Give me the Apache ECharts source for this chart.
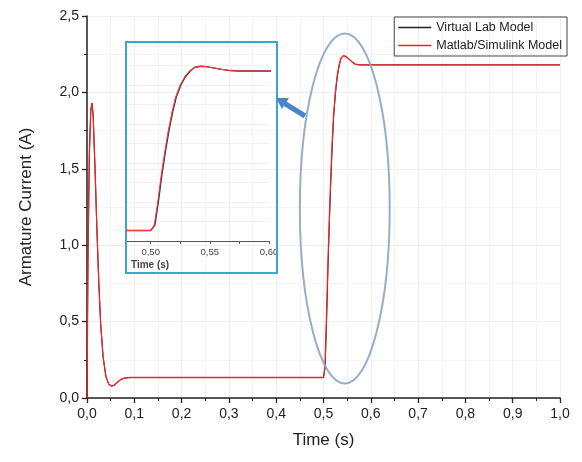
<!DOCTYPE html>
<html>
<head>
<meta charset="utf-8">
<script src="https://cdn.jsdelivr.net/npm/echarts@6/dist/echarts.min.js"></script>
<style>
  html, body { margin: 0; padding: 0; background: #fff; }
  #main { width: 582px; height: 462px; }
</style>
</head>
<body>
<div id="main"></div>
<script>
// time (s) and armature current (A)
const simulinkTime = [0, 0.002, 0.005, 0.008, 0.0105, 0.013, 0.017, 0.021, 0.025, 0.029, 0.034, 0.04, 0.046, 0.052,
    0.058, 0.065, 0.072, 0.08, 0.09, 0.5, 0.501, 0.503, 0.506, 0.509, 0.512, 0.515, 0.518, 0.521, 0.525,
    0.529, 0.533, 0.537, 0.542, 0.547, 0.553, 0.56, 0.567, 0.575, 0.585, 0.6, 1.0];
const simulinkCurrent = [0, 0.9, 1.6, 1.88, 1.93, 1.85, 1.5, 1.1, 0.75, 0.48, 0.27, 0.14, 0.09, 0.078,
    0.085, 0.105, 0.122, 0.131, 0.134, 0.134, 0.134, 0.2, 0.5, 0.85, 1.15, 1.42, 1.65, 1.84, 2.0,
    2.11, 2.18, 2.225, 2.24, 2.235, 2.22, 2.2, 2.185, 2.18, 2.18, 2.18, 2.18];
const virtualTime = [0, 0.002, 0.005, 0.008, 0.0105, 0.013, 0.017, 0.021, 0.025, 0.029, 0.034, 0.04, 0.046, 0.052,
    0.058, 0.065, 0.072, 0.08, 0.09, 0.5, 0.5015, 0.5035, 0.5065, 0.5095, 0.5125, 0.5155, 0.5185, 0.5215, 0.5255,
    0.5295, 0.5335, 0.537, 0.542, 0.547, 0.553, 0.56, 0.567, 0.575, 0.585, 0.6, 1.0];
const virtualCurrent = [0, 0.9, 1.6, 1.88, 1.93, 1.85, 1.5, 1.1, 0.75, 0.48, 0.27, 0.14, 0.09, 0.078,
    0.085, 0.105, 0.122, 0.131, 0.134, 0.134, 0.134, 0.2, 0.5, 0.85, 1.15, 1.42, 1.65, 1.84, 2.0,
    2.11, 2.18, 2.225, 2.24, 2.235, 2.22, 2.2, 2.185, 2.18, 2.18, 2.18, 2.18];
const insetTicks = [0.5, 0.525, 0.55, 0.575, 0.6];
const insetLabels = [0.5, 0.55, 0.6];

const font = 'Liberation Sans, Arial, sans-serif';
const comma = function (v, n) { return v.toFixed(n).replace('.', ','); };
const pairs = function (xs, ys) { return xs.map(function (x, i) { return [x, ys[i]]; }); };

var chartDom = document.getElementById('main');
var myChart = echarts.init(chartDom);

var simData = pairs(simulinkTime, simulinkCurrent);
var virData = pairs(virtualTime, virtualCurrent);

var option = {
    animation: false,
    backgroundColor: '#fff',
    textStyle: { fontFamily: font },
    legend: {
        orient: 'vertical',
        right: 15,
        top: 17,
        padding: [4, 5, 4, 4],
        itemGap: 5,
        itemWidth: 33,
        itemHeight: 1.5,
        icon: 'rect',
        borderColor: '#444',
        borderWidth: 1,
        textStyle: { fontSize: 12.5, color: '#222', fontFamily: font },
        data: ['Virtual Lab Model', 'Matlab/Simulink Model']
    },
    grid: [
        { left: 87, right: 22, top: 16, bottom: 64 },
        { left: 127, right: 313, top: 46, bottom: 221 }
    ],
    xAxis: [
        {
            gridIndex: 0, type: 'value', min: 0, max: 1, interval: 0.1,
            name: 'Time (s)', nameLocation: 'middle', nameGap: 34,
            nameTextStyle: { fontSize: 17, color: '#222' },
            axisLine: { lineStyle: { color: '#222', width: 1.5 } },
            axisTick: { length: 5, lineStyle: { color: '#222', width: 1.3 } },
            minorTick: { show: true, splitNumber: 2, length: 3, lineStyle: { color: '#222' } },
            axisLabel: { fontSize: 14, color: '#222', margin: 9, formatter: function (v) { return comma(v, 1); } },
            splitLine: { show: true, lineStyle: { color: '#efefef' } },
            minorSplitLine: { show: true, lineStyle: { color: '#f4f4f4' } }
        },
        {
            gridIndex: 1, type: 'value', min: 0.48, max: 0.6,
            axisLine: { lineStyle: { color: '#555', width: 1 } },
            axisTick: { length: 3, customValues: insetTicks, lineStyle: { color: '#555' } },
            axisLabel: {
                fontSize: 9.5, color: '#444', margin: 6, customValues: insetLabels,
                formatter: function (v) { return comma(v, 2); }
            },
            splitLine: { show: false }
        }
    ],
    yAxis: [
        {
            gridIndex: 0, type: 'value', min: 0, max: 2.5, interval: 0.5,
            name: 'Armature Current (A)', nameLocation: 'middle', nameGap: 52,
            nameTextStyle: { fontSize: 17, color: '#222' },
            axisLine: { show: true, lineStyle: { color: '#222', width: 1.5 } },
            axisTick: { show: true, length: 5, lineStyle: { color: '#222', width: 1.3 } },
            minorTick: { show: true, splitNumber: 2, length: 3, lineStyle: { color: '#222' } },
            axisLabel: { fontSize: 14, color: '#222', margin: 8, formatter: function (v) { return comma(v, 1); } },
            splitLine: { show: true, lineStyle: { color: '#efefef' } },
            minorSplitLine: { show: true, lineStyle: { color: '#f4f4f4' } }
        },
        {
            gridIndex: 1, type: 'value', min: 0, max: 2.5, interval: 0.25,
            axisLine: { show: false }, axisTick: { show: false }, axisLabel: { show: false },
            splitLine: { show: true, lineStyle: { color: '#f0f0f0' } }
        }
    ],
    series: [
        {
            name: 'Virtual Lab Model', type: 'line', xAxisIndex: 0, yAxisIndex: 0,
            data: virData, symbol: 'none', color: '#222',
            lineStyle: { width: 1, color: '#222' }, z: 2
        },
        {
            name: 'Matlab/Simulink Model', type: 'line', xAxisIndex: 0, yAxisIndex: 0,
            data: simData, symbol: 'none', color: '#e8262b',
            lineStyle: { width: 1.3, color: '#e8262b' }, z: 3
        },
        {
            name: 'Virtual Lab Model', type: 'line', xAxisIndex: 1, yAxisIndex: 1,
            data: virData, symbol: 'none', color: '#222',
            lineStyle: { width: 1.4, color: '#333' }, z: 2
        },
        {
            name: 'Matlab/Simulink Model', type: 'line', xAxisIndex: 1, yAxisIndex: 1,
            data: simData, symbol: 'none', color: '#e8262b',
            lineStyle: { width: 1.1, color: '#ee4045' }, z: 3
        }
    ]
};
myChart.setOption(option);

// annotations: ellipse around the step, arrow and the inset frame
var c = myChart.convertToPixel({ gridIndex: 0 }, [0.545, 1.24]);
var e = myChart.convertToPixel({ gridIndex: 0 }, [0.64, 2.385]);
myChart.setOption({
    graphic: [
        {
            type: 'rect', z: 1, silent: true,
            shape: { x: 126, y: 42, width: 151, height: 231 },
            style: { fill: 'none', stroke: '#3aa6d6', lineWidth: 2 }
        },
        {
            type: 'text', z: 5, left: 131, top: 260,
            style: { text: 'Time (s)', fontSize: 10, fontWeight: 'bold', fill: '#444', fontFamily: font }
        },
        {
            type: 'ellipse', z: 4, silent: true,
            shape: { cx: c[0], cy: c[1], rx: e[0] - c[0], ry: c[1] - e[1] },
            style: { fill: 'none', stroke: '#8aa6c2', lineWidth: 2, opacity: 0.9 }
        },
        {
            type: 'line', z: 4, silent: true,
            shape: { x1: 305, y1: 116, x2: 284, y2: 103 },
            style: { stroke: '#4a86c8', lineWidth: 5 }
        },
        {
            type: 'polygon', z: 4, silent: true,
            shape: { points: [[276, 98], [289, 98], [282, 109]] },
            style: { fill: '#4a86c8' }
        }
    ]
});

window.onresize = function () {
    myChart.resize();
};
</script>
</body>
</html>
